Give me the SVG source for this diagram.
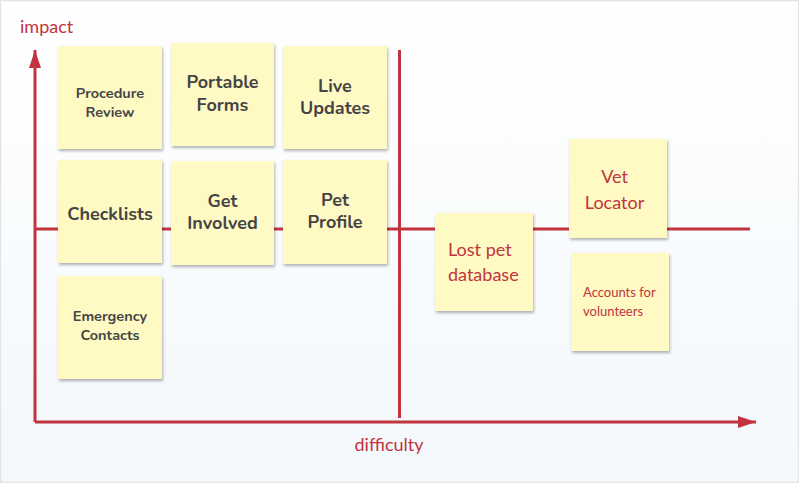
<svg xmlns="http://www.w3.org/2000/svg" width="799" height="483" viewBox="0 0 799 483">
<defs>
<linearGradient id="bg" x1="0" y1="0" x2="0" y2="1">
<stop offset="0" stop-color="#ffffff"/>
<stop offset="1" stop-color="#f3f8fc"/>
</linearGradient>
<filter id="sh" x="-10%" y="-10%" width="130%" height="130%">
<feDropShadow dx="1" dy="2" stdDeviation="1.5" flood-color="#000" flood-opacity="0.3"/>
</filter>
<marker id="ahx" markerWidth="18" markerHeight="12" refX="18" refY="6" orient="auto" markerUnits="userSpaceOnUse">
<path d="M0,0 L18,6 L0,12 z" fill="#c1343f"/>
</marker>
<style>
.note{fill:#fff9c4;filter:url(#sh);}
.ax{stroke:#c1343f;stroke-width:3;fill:none;}
.lbl{font-family:Lato,"Liberation Sans",Arial,sans-serif;font-size:18px;fill:#c1343f;}
.dk{font-family:Nunito,"Open Sans","Liberation Sans",sans-serif;font-weight:bold;fill:#444;text-anchor:middle;}
.rd{font-family:Lato,"Noto Sans","Liberation Sans",sans-serif;fill:#c1343f;}
</style>
</defs>
<rect x="0.5" y="0.5" width="798" height="482" fill="url(#bg)" stroke="#e2e4e6" stroke-width="1.5"/>
<text class="lbl" x="20" y="33">impact</text>
<text class="lbl" x="389" y="451" text-anchor="middle">difficulty</text>
<g id="connectors">
<line class="ax" x1="35" y1="229" x2="750" y2="229"/>
<line class="ax" x1="399.5" y1="50" x2="399.5" y2="418"/>
<line class="ax" x1="35" y1="422" x2="35" y2="50" marker-end="url(#ahx)"/>
<line class="ax" x1="35" y1="422" x2="756" y2="422" marker-end="url(#ahx)"/>
</g>
<g id="procedure-review"><rect class="note" x="58" y="46" width="104" height="103"/><text class="dk" font-size="14.5"><tspan x="110" y="98">Procedure</tspan><tspan x="110" y="117">Review</tspan></text></g>
<g id="portable-forms"><rect class="note" x="171" y="43" width="103" height="103"/><text class="dk" font-size="18"><tspan x="222.5" y="88">Portable</tspan><tspan x="222.5" y="111">Forms</tspan></text></g>
<g id="live-updates"><rect class="note" x="283" y="46" width="104" height="103"/><text class="dk" font-size="18"><tspan x="335" y="92">Live</tspan><tspan x="335" y="114">Updates</tspan></text></g>
<g id="checklists"><rect class="note" x="58" y="160" width="104" height="103"/><text class="dk" font-size="18"><tspan x="110" y="220">Checklists</tspan></text></g>
<g id="get-involved"><rect class="note" x="171" y="161" width="103" height="104"/><text class="dk" font-size="18"><tspan x="222.5" y="207">Get</tspan><tspan x="222.5" y="229">Involved</tspan></text></g>
<g id="pet-profile"><rect class="note" x="283" y="160" width="104" height="104"/><text class="dk" font-size="18"><tspan x="335" y="206">Pet</tspan><tspan x="335" y="228">Profile</tspan></text></g>
<g id="emergency-contacts"><rect class="note" x="58" y="276" width="104" height="103"/><text class="dk" font-size="14.5"><tspan x="110" y="321">Emergency</tspan><tspan x="110" y="340">Contacts</tspan></text></g>
<g id="lost-pet-database"><rect class="note" x="435" y="213" width="98" height="98"/><text class="rd" font-size="18"><tspan x="448" y="256">Lost pet</tspan><tspan x="448" y="281">database</tspan></text></g>
<g id="vet-locator"><rect class="note" x="569" y="139" width="98" height="99"/><text class="rd" font-size="18" text-anchor="middle"><tspan x="614.5" y="183">Vet</tspan><tspan x="614.5" y="209">Locator</tspan></text></g>
<g id="accounts-for-volunteers"><rect class="note" x="571" y="253" width="98" height="98"/><text class="rd" font-size="13"><tspan x="583" y="297">Accounts for</tspan><tspan x="583" y="316">volunteers</tspan></text></g>
</svg>
